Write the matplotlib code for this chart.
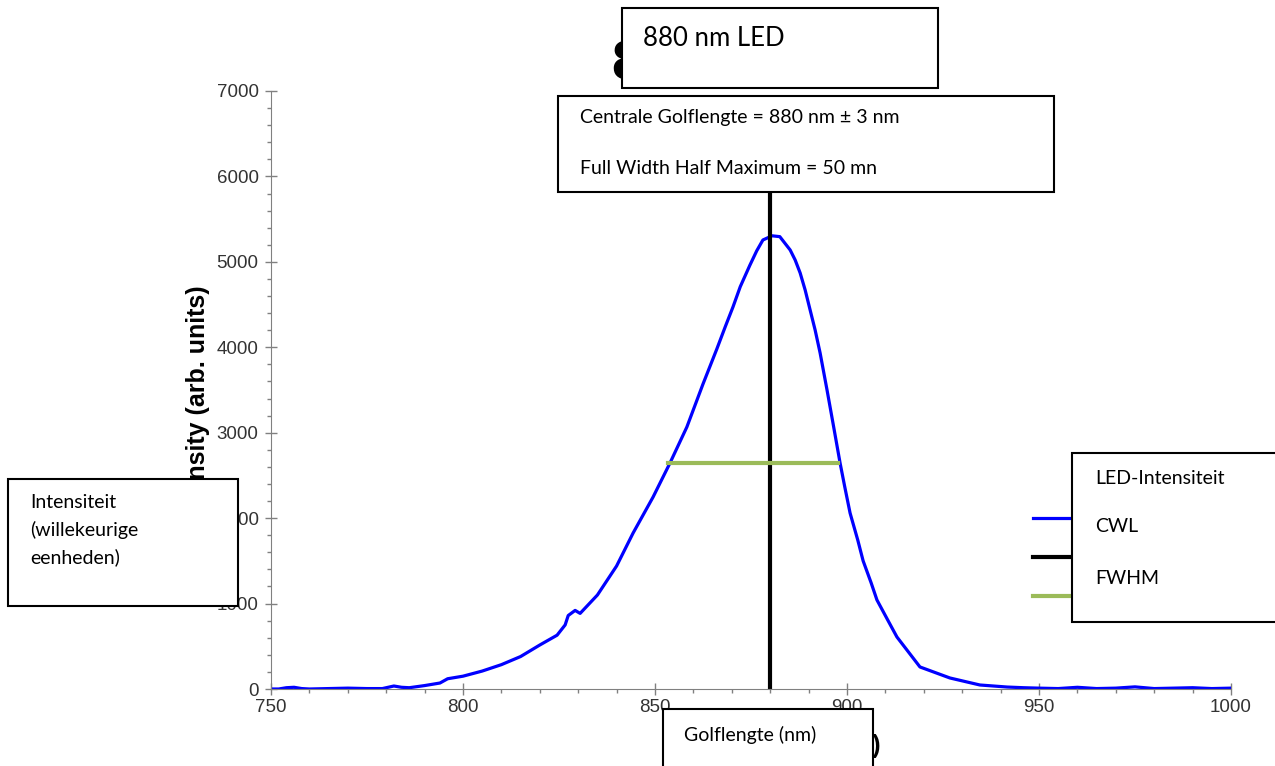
import matplotlib
matplotlib.use('Agg')
from matplotlib import pyplot as plt
from matplotlib.patches import Rectangle
from matplotlib.ticker import MultipleLocator

# Spectrum
wavelength = [750, 752, 754, 756, 758, 760, 765, 770, 775, 779, 782, 784, 786, 790,
              794, 796, 800, 805, 810, 815, 820, 824.5, 826.6, 827.4, 829.2, 830.5,
              835, 840, 844.3, 849.5, 853.9, 858.3, 862.5, 866.1, 868.3, 870.3, 872.2,
              874.7, 876.5, 878.1, 880.5, 882.5, 885.2, 886.5, 887.8, 889.1, 890.4,
              891.7, 893.0, 894.8, 896.4, 898.2, 899.4, 900.8, 902.8, 904.2, 906.3,
              907.8, 910.6, 913.0, 919.0, 926.8, 934.6, 941.7, 946, 950, 955, 960,
              965, 970, 975, 980, 985, 990, 995, 1000]
intensity = [0, 0, 15, 20, 5, 0, 5, 10, 5, 5, 35, 20, 15, 40,
             70, 120, 150, 210, 285, 380, 515, 630, 750, 860, 920, 885,
             1100, 1440, 1826, 2247, 2645, 3067, 3570, 3980, 4241, 4471, 4709,
             4960, 5130, 5256, 5305, 5295, 5139, 5022, 4870, 4671, 4436,
             4202, 3933, 3500, 3100, 2645, 2370, 2060, 1744, 1500, 1241,
             1042, 808, 609, 258, 129, 47, 23, 15, 10, 5, 20,
             5, 10, 25, 5, 10, 15, 5, 10]

cwl = 880
cwl_top = 6500
fwhm_range = [853.5, 897.7]
fwhm_level = 2645

W, H = 1275, 766


def fig_box(fig, x0, y0, x1, y1):
    # rectangle given in pixels from the top-left corner
    rect = Rectangle((x0 / W, 1 - y1 / H), (x1 - x0) / W, (y1 - y0) / H,
                     transform=fig.transFigure, facecolor='white',
                     edgecolor='black', linewidth=1.5, zorder=10)
    fig.patches.append(rect)


def fig_text(fig, x, y, s, size=14):
    fig.text(x / W, 1 - y / H, s, fontsize=size, family='Lato',
             ha='left', va='center', zorder=11)


def main():
    plt.rcParams['font.family'] = ['Liberation Sans', 'DejaVu Sans']
    fig = plt.figure(figsize=(12.75, 7.66), dpi=100)
    ax = fig.add_axes([271 / W, 1 - 689 / H, 960 / W, 598 / H])

    ax.plot(wavelength, intensity, color='#0000ff', linewidth=2.3,
            label='LED Intensity')
    ax.plot([cwl, cwl], [0, cwl_top], color='black', linewidth=3,
            label='CWL (880 nm)')
    ax.plot(fwhm_range, [fwhm_level, fwhm_level], color='#9bbb59',
            linewidth=3, label='FWHM (44 nm)')

    ax.set_xlim(750, 1000)
    ax.set_ylim(0, 7000)
    ax.xaxis.set_major_locator(MultipleLocator(50))
    ax.xaxis.set_minor_locator(MultipleLocator(10))
    ax.yaxis.set_major_locator(MultipleLocator(1000))
    ax.yaxis.set_minor_locator(MultipleLocator(200))

    for side in ['top', 'right']:
        ax.spines[side].set_visible(False)
    for side in ['left', 'bottom']:
        ax.spines[side].set_color('#808080')
    ax.tick_params(which='major', direction='inout', length=8, width=1,
                   color='#808080', labelsize=13.5, labelcolor='#333333')
    ax.tick_params(which='minor', direction='out', length=3, width=1,
                   color='#808080')
    ax.tick_params(axis='y', which='major', pad=5)
    ax.tick_params(axis='x', which='major', pad=3)

    # original labels, mostly hidden under the boxes below
    ax.set_ylabel('Intensity (arb. units)', fontsize=18, fontweight='bold')
    ax.yaxis.set_label_coords(-0.0635, 0.476)
    ax.set_xlabel('Wavelength (nm)', fontsize=18, fontweight='bold')
    ax.xaxis.set_label_coords(0.531, -0.075)
    fig.text(612 / W, 1 - 65 / H, '880 nm LED', fontsize=40,
             fontweight='bold', ha='left', va='center')

    ax.legend(loc='upper left', bbox_to_anchor=(1033 / W, 1 - 510 / H),
              bbox_transform=fig.transFigure, frameon=False, fontsize=16,
              handlelength=1.6, handletextpad=0.2, labelspacing=0.8,
              borderpad=0, borderaxespad=0)

    # white annotation boxes laid over the original labels
    fig_box(fig, 622, 8, 938, 88)
    fig_text(fig, 643, 38, '880 nm LED', size=18.5)

    fig_box(fig, 558, 96, 1054, 192)
    fig_text(fig, 580, 118, 'Centrale Golflengte = 880 nm ± 3 nm')
    fig_text(fig, 580, 169, 'Full Width Half Maximum = 50 mn')

    fig_box(fig, 8, 479, 238, 606)
    fig_text(fig, 30, 503, 'Intensiteit')
    fig_text(fig, 30, 530, '(willekeurige')
    fig_text(fig, 30, 557, 'eenheden)')

    fig_box(fig, 1072, 453, 1290, 622)
    fig_text(fig, 1095, 479, 'LED-Intensiteit')
    fig_text(fig, 1095, 527, 'CWL')
    fig_text(fig, 1095, 578, 'FWHM')

    fig_box(fig, 663, 709, 873, 780)
    fig_text(fig, 684, 735, 'Golflengte (nm)')

    fig.savefig('out.png', dpi=100)


main()
